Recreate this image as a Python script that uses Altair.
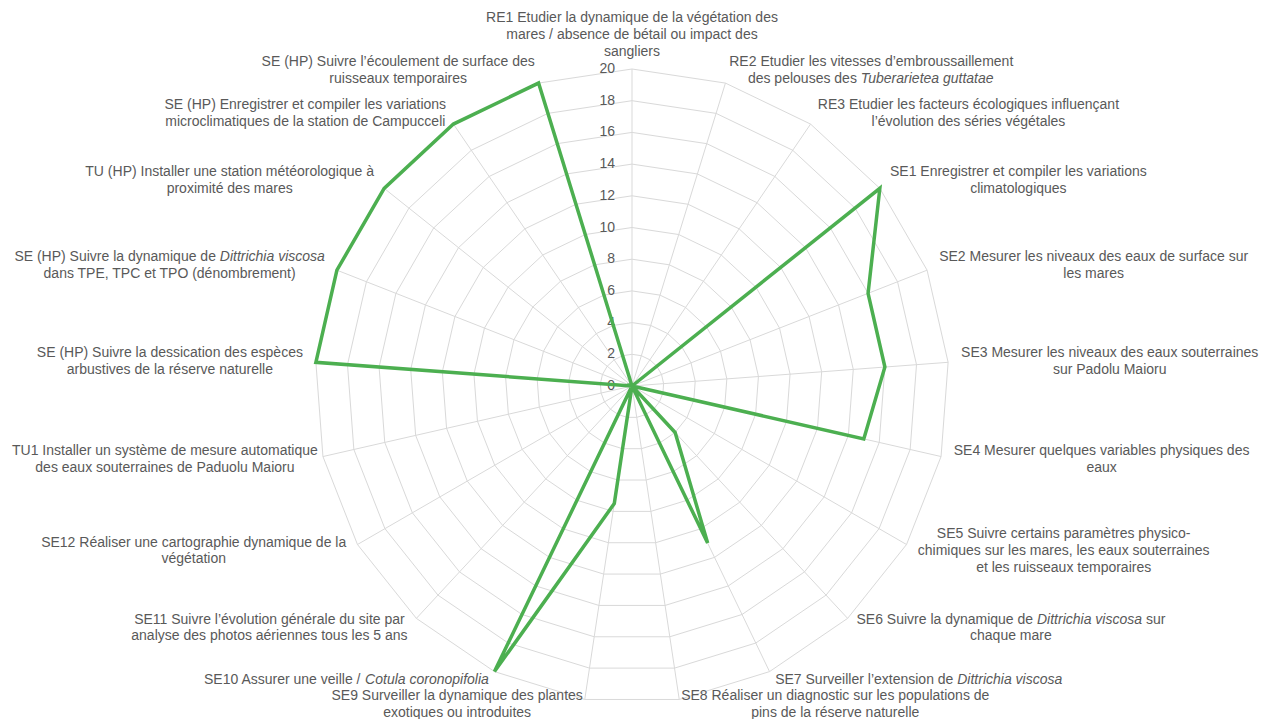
import math
import altair as alt
import pandas as pd

# ---------------- data ----------------
categories = [
    "RE1 Etudier la dynamique de la végétation des\nmares / absence de bétail ou impact des\nsangliers",
    "RE2 Etudier les vitesses d’embroussaillement\ndes pelouses des *Tuberarietea guttatae*",
    "RE3 Etudier les facteurs écologiques influençant\nl’évolution des séries végétales",
    "SE1 Enregistrer et compiler les variations\nclimatologiques",
    "SE2 Mesurer les niveaux des eaux de surface sur\nles mares",
    "SE3 Mesurer les niveaux des eaux souterraines\nsur Padolu Maioru",
    "SE4 Mesurer quelques variables physiques des\neaux",
    "SE5 Suivre certains paramètres physico-\nchimiques sur les mares, les eaux souterraines\net les ruisseaux temporaires",
    "SE6 Suivre la dynamique de *Dittrichia viscosa* sur\nchaque mare",
    "SE7 Surveiller l’extension de *Dittrichia viscosa*",
    "SE8 Réaliser un diagnostic sur les populations de\npins de la réserve naturelle",
    "SE9 Surveiller la dynamique des plantes\nexotiques ou introduites",
    "SE10 Assurer une veille / *Cotula coronopifolia*",
    "SE11 Suivre l’évolution générale du site par\nanalyse des photos aériennes tous les 5 ans",
    "SE12 Réaliser une cartographie dynamique de la\nvégétation",
    "TU1 Installer un système de mesure automatique\ndes eaux souterraines de Paduolu Maioru",
    "SE (HP) Suivre la dessication des espèces\narbustives de la réserve naturelle",
    "SE (HP) Suivre la dynamique de *Dittrichia viscosa*\ndans TPE, TPC et TPO (dénombrement)",
    "TU (HP) Installer une station météorologique à\nproximité des mares",
    "SE (HP) Enregistrer et compiler les variations\nmicroclimatiques de la station de Campucceli",
    "SE (HP) Suivre l’écoulement de surface des\nruisseaux temporaires",
]
values = [0, 0, 0, 20, 16, 16, 15, 0, 4, 11, 0, 7.5, 20, 0, 0, 0, 20, 20, 20, 20, 20]
tick_values = [0, 2, 4, 6, 8, 10, 12, 14, 16, 18, 20]
ring_values = [2, 4, 6, 8, 10, 12, 14, 16, 18, 20]

# ---------------- layout / style ----------------
W, H = 1255, 711
CX, CY = 624, 378          # centre of the radar inside the plot area (px)
R_PX = 317.0               # radius of the outer ring (px)
VMAX = 20
K = R_PX / VMAX            # px per unit
R_LAB = 330.0              # label anchor radius (px)
FS = 14
LH = 16.6
FONT = "Liberation Sans"
TEXT_COLOR = "#595959"
GRID_COLOR = "#D9D9D9"
LINE_COLOR = "#4CAF50"

# Arial / Liberation Sans advance widths (1/1000 em)
GLYPH_W = {
    ' ': 278, '!': 278, "'": 191, '(': 333, ')': 333, ',': 278, '-': 333, '.': 278,
    '/': 278, ':': 278, ';': 278, '’': 222,
    'A': 667, 'B': 667, 'C': 722, 'D': 722, 'E': 667, 'F': 611, 'G': 778, 'H': 722,
    'I': 278, 'J': 500, 'K': 667, 'L': 556, 'M': 833, 'N': 722, 'O': 778, 'P': 667,
    'Q': 778, 'R': 722, 'S': 667, 'T': 611, 'U': 722, 'V': 667, 'W': 944, 'X': 667,
    'Y': 667, 'Z': 611,
    'a': 556, 'b': 556, 'c': 500, 'd': 556, 'e': 556, 'f': 278, 'g': 556, 'h': 556,
    'i': 222, 'j': 222, 'k': 500, 'l': 222, 'm': 833, 'n': 556, 'o': 556, 'p': 556,
    'q': 556, 'r': 333, 's': 500, 't': 278, 'u': 556, 'v': 500, 'w': 722, 'x': 500,
    'y': 500, 'z': 500, 'é': 556, 'è': 556, 'ê': 556, 'à': 556, 'ç': 500,
}


def tw(s):
    return sum(GLYPH_W.get(ch, 556) for ch in s) * FS / 1000.0


n = len(categories)
ang = [2 * math.pi * i / n for i in range(n)]


def to_xy(v, a):
    return v * math.sin(a), v * math.cos(a)


xs = alt.Scale(domain=[-CX / K, (W - CX) / K], nice=False, zero=False)
ys = alt.Scale(domain=[-(H - CY) / K, CY / K], nice=False, zero=False)


def X(f):
    return alt.X(f, type="quantitative", scale=xs, axis=None)


def Y(f):
    return alt.Y(f, type="quantitative", scale=ys, axis=None)


# grid rings
ring_rows = []
for rv in ring_values:
    for k in range(n + 1):
        x, y = to_xy(rv, ang[k % n])
        ring_rows.append({"ring": rv, "k": k, "x": x, "y": y})
rings = alt.Chart(pd.DataFrame(ring_rows)).mark_line(
    color=GRID_COLOR, strokeWidth=1
).encode(x=X("x"), y=Y("y"), detail="ring:N", order="k:Q")

# spokes
spoke_rows = []
for i in range(n):
    x2, y2 = to_xy(VMAX, ang[i])
    spoke_rows.append({"x": 0.0, "y": 0.0, "x2": x2, "y2": y2})
spokes = alt.Chart(pd.DataFrame(spoke_rows)).mark_rule(
    color=GRID_COLOR, strokeWidth=1
).encode(x=X("x"), y=Y("y"), x2="x2:Q", y2="y2:Q")

# tick labels
tick_df = pd.DataFrame({
    "x": [-17.0 / K] * len(tick_values),
    "y": tick_values,
    "t": [str(v) for v in tick_values],
})
ticks = alt.Chart(tick_df).mark_text(
    font=FONT, fontSize=FS, color=TEXT_COLOR, align="right", baseline="middle"
).encode(x=X("x"), y=Y("y"), text="t:N")

# series
ser_rows = []
for k in range(n + 1):
    v = values[k % n]
    x, y = to_xy(v, ang[k % n])
    ser_rows.append({"k": k, "x": x, "y": y, "v": v})
series = alt.Chart(pd.DataFrame(ser_rows)).mark_line(
    color=LINE_COLOR, strokeWidth=3.5, strokeJoin="miter"
).encode(x=X("x"), y=Y("y"), order="k:Q")

# ---------------- category labels: placement ----------------
boxes = []
for i, lab in enumerate(categories):
    a = ang[i]
    s, c = math.sin(a), math.cos(a)
    px = CX + R_LAB * s
    py = CY - R_LAB * c
    lines = lab.split("\n")
    parsed = []
    for ln in lines:
        parts = ln.split("*")
        parsed.append([(p, j % 2 == 1) for j, p in enumerate(parts) if p])
    widths = [sum(tw(t) for t, _ in segs) for segs in parsed]
    bw = max(widths)
    nl = len(lines)
    if abs(s) < 1e-9:
        cx = px
        yl = [py - 4.5 - (nl - 1 - j) * LH for j in range(nl)]
    else:
        cx = px + math.copysign(bw / 2, s)
        yl = [py + (j - (nl - 1) / 2) * LH for j in range(nl)]
    cx = max(cx, 4 + bw / 2)
    cx = min(cx, W - 4 - bw / 2)
    over = yl[-1] - (H - 6)
    if over > 0:
        yl = [y - over for y in yl]
    boxes.append({"cx": cx, "bw": bw, "yl": yl, "parsed": parsed,
                  "widths": widths, "lower": c < 0})

# lower half: push labels upwards where they would collide with a label below
lower = [j for j in range(n) if boxes[j]["lower"]]
order_idx = sorted(lower, key=lambda j: -boxes[j]["yl"][-1])
placed = []
for j in order_idx:
    b = boxes[j]
    x0, x1 = b["cx"] - b["bw"] / 2, b["cx"] + b["bw"] / 2
    for q in placed:
        ob = boxes[q]
        ox0, ox1 = ob["cx"] - ob["bw"] / 2, ob["cx"] + ob["bw"] / 2
        if x1 > ox0 and x0 < ox1 and ob["yl"][0] >= b["yl"][-1] - 1:
            gap = ob["yl"][0] - b["yl"][-1]
            if gap < LH:
                d = LH - gap
                b["yl"] = [y - d for y in b["yl"]]
    placed.append(j)

plain_rows, seg_norm, seg_ital = [], [], []
for b in boxes:
    cx = b["cx"]
    for segs, lw, yy in zip(b["parsed"], b["widths"], b["yl"]):
        yd = (CY - yy) / K
        if len(segs) == 1 and not segs[0][1]:
            plain_rows.append({"x": (cx - CX) / K, "y": yd, "t": segs[0][0]})
        else:
            pos = cx - lw / 2
            for t, it in segs:
                lead = len(t) - len(t.lstrip())
                row = {"x": (pos + tw(t[:lead]) - CX) / K, "y": yd, "t": t.strip()}
                (seg_ital if it else seg_norm).append(row)
                pos += tw(t)

lab_plain = alt.Chart(pd.DataFrame(plain_rows)).mark_text(
    font=FONT, fontSize=FS, color=TEXT_COLOR, align="center", baseline="middle"
).encode(x=X("x"), y=Y("y"), text="t:N")
lab_norm = alt.Chart(pd.DataFrame(seg_norm)).mark_text(
    font=FONT, fontSize=FS, color=TEXT_COLOR, align="left", baseline="middle"
).encode(x=X("x"), y=Y("y"), text="t:N")
lab_ital = alt.Chart(pd.DataFrame(seg_ital)).mark_text(
    font=FONT, fontSize=FS, color=TEXT_COLOR, align="left", baseline="middle",
    fontStyle="italic"
).encode(x=X("x"), y=Y("y"), text="t:N")

chart = alt.layer(
    rings, spokes, ticks, series, lab_plain, lab_norm, lab_ital
).properties(
    width=W, height=H, padding=0,
    autosize=alt.AutoSizeParams(type="none"),
).configure_view(strokeWidth=0)

chart.save("out.html", embed_options={"renderer": "svg", "actions": False})
